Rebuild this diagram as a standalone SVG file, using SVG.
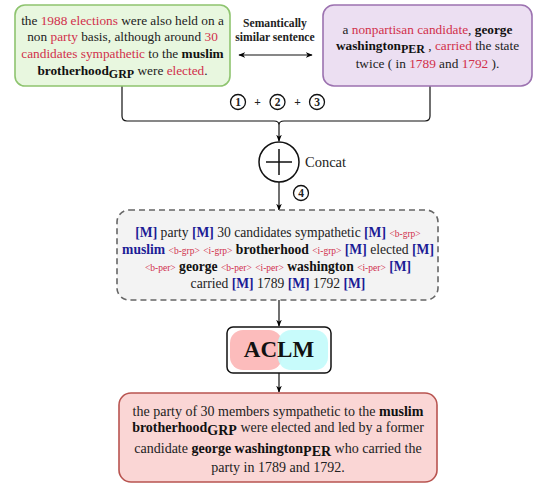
<svg xmlns="http://www.w3.org/2000/svg" width="537" height="484" viewBox="0 0 537 484" font-family="'Liberation Serif', 'DejaVu Serif', serif">
<defs>
<marker id="arr" viewBox="0 0 10 10" refX="9" refY="5" markerWidth="7" markerHeight="7" orient="auto-start-reverse" markerUnits="userSpaceOnUse">
<path d="M0,1 L10,5 L0,9 L3,5 Z" fill="#000"/>
</marker>
<style>
text{font-family:'Liberation Serif','DejaVu Serif',serif;font-size:13.3px;fill:#222;}
.b{font-weight:bold;fill:#111;}
.r{fill:#d1304b;}
.m{font-weight:bold;fill:#1c1c96;}
.t{font-size:9.5px;fill:#d1304b;}
.sub{font-weight:bold;font-size:12px;fill:#111;}
.lbl{font-weight:bold;font-size:11.6px;}
.conn{fill:none;stroke:#111;stroke-width:1.2;}
.num{fill:#fff;stroke:#111;stroke-width:1.3;}
.nt{font-weight:bold;font-size:11.5px;text-anchor:middle;}
.mid text{font-size:13.6px;}
.mid .t{font-size:9.5px;}
.out text{font-size:14px;}
</style>
</defs>

<g id="connectors">
<path class="conn" d="M122,86 V116 Q122,121 127,121 H274 Q279,121 279,125 Q279,121 284,121 H425 Q430,121 430,116 V86"/>
<path class="conn" d="M279,125 V141" marker-end="url(#arr)"/>
<path class="conn" d="M279,182 V210" marker-end="url(#arr)"/>
<path class="conn" d="M279,300 V326" marker-end="url(#arr)"/>
<path class="conn" d="M279,373 V392" marker-end="url(#arr)"/>
<path class="conn" d="M239,55 H312" marker-start="url(#arr)" marker-end="url(#arr)"/>
</g>

<g id="label-similar">
<text class="lbl" x="275" y="27" text-anchor="middle">Semantically</text>
<text class="lbl" x="275" y="41" text-anchor="middle">similar sentence</text>
</g>

<g id="node-green">
<rect x="15" y="5" width="215" height="81" rx="10" fill="#e8f7df" stroke="#8ec46f" stroke-width="1.6"/>
<text x="122.5" y="25" text-anchor="middle">the <tspan class="r">1988 elections</tspan> were also held on a</text>
<text x="122.5" y="41" text-anchor="middle">non <tspan class="r">party</tspan> basis, although around <tspan class="r">30</tspan></text>
<text x="122.5" y="58" text-anchor="middle"><tspan class="r">candidates sympathetic</tspan> to the <tspan class="b">muslim</tspan></text>
<text x="122.5" y="75" text-anchor="middle"><tspan class="b">brotherhood</tspan><tspan class="sub" dy="3">GRP</tspan><tspan dy="-3"> were </tspan><tspan class="r">elected</tspan>.</text>
</g>

<g id="node-purple">
<rect x="323" y="5" width="209" height="81" rx="11" fill="#ecdff2" stroke="#9c72b0" stroke-width="1.6"/>
<text x="427.5" y="34" text-anchor="middle">a <tspan class="r">nonpartisan candidate</tspan>, <tspan class="b">george</tspan></text>
<text x="427.5" y="50" text-anchor="middle"><tspan class="b">washington</tspan><tspan class="sub" dy="3">PER</tspan><tspan dy="-3"> , </tspan><tspan class="r">carried</tspan> the state</text>
<text x="427.5" y="68" text-anchor="middle">twice ( in <tspan class="r">1789</tspan> and <tspan class="r">1792</tspan> ).</text>
</g>

<g id="steps">
<circle class="num" cx="238" cy="102" r="7.5"/>
<text class="nt" x="238" y="106">1</text>
<text class="nt" x="257.5" y="106">+</text>
<circle class="num" cx="277.5" cy="102" r="7.5"/>
<text class="nt" x="277.5" y="106">2</text>
<text class="nt" x="297.5" y="106">+</text>
<circle class="num" cx="317" cy="102" r="7.5"/>
<text class="nt" x="317" y="106">3</text>
</g>

<g id="node-concat">
<circle cx="279" cy="162" r="20" fill="#fff" stroke="#111" stroke-width="1.5"/>
<path d="M266,162 H292 M279,149 V175" stroke="#111" stroke-width="1.5" fill="none"/>
<text x="305" y="167" style="font-size:14.5px">Concat</text>
</g>

<g id="step4">
<circle class="num" cx="301" cy="193" r="7.5"/>
<text class="nt" x="301" y="197">4</text>
</g>

<g id="node-masked" class="mid">
<rect x="117" y="210" width="321" height="90" rx="12" fill="#f3f3f3" stroke="#666" stroke-width="1.6" stroke-dasharray="6,4"/>
<text x="278" y="237" text-anchor="middle"><tspan class="m">[M]</tspan> party <tspan class="m">[M]</tspan> 30 candidates sympathetic <tspan class="m">[M]</tspan> <tspan class="t">&lt;b-grp&gt;</tspan></text>
<text x="278" y="254" text-anchor="middle"><tspan class="m">muslim</tspan> <tspan class="t">&lt;b-grp&gt;</tspan> <tspan class="t">&lt;i-grp&gt;</tspan> <tspan class="b">brotherhood</tspan> <tspan class="t">&lt;i-grp&gt;</tspan> <tspan class="m">[M]</tspan> elected <tspan class="m">[M]</tspan></text>
<text x="278" y="271" text-anchor="middle"><tspan class="t">&lt;b-per&gt;</tspan> <tspan class="b">george</tspan> <tspan class="t">&lt;b-per&gt;</tspan> <tspan class="t">&lt;i-per&gt;</tspan> <tspan class="b">washington</tspan> <tspan class="t">&lt;i-per&gt;</tspan> <tspan class="m">[M]</tspan></text>
<text x="278" y="288" text-anchor="middle">carried <tspan class="m">[M]</tspan> 1789 <tspan class="m">[M]</tspan> 1792 <tspan class="m">[M]</tspan></text>
</g>

<g id="node-aclm">
<rect x="227" y="327" width="104" height="46" rx="6" fill="#fff" stroke="#111" stroke-width="1.5"/>
<rect x="230" y="330" width="52" height="40" rx="13" fill="#fcbcbc"/>
<rect x="278" y="330" width="50" height="40" rx="13" fill="#c3fbfb" fill-opacity="0.92"/>
<text x="279" y="357" text-anchor="middle" style="font-size:23px;font-weight:bold;fill:#111">ACLM</text>
</g>

<g id="node-output" class="out">
<rect x="119" y="393" width="318" height="89" rx="12" fill="#fad6d5" stroke="#b85450" stroke-width="1.6"/>
<text x="278" y="416" text-anchor="middle">the party of 30 members sympathetic to the <tspan class="b">muslim</tspan></text>
<text x="278" y="432" text-anchor="middle"><tspan class="b">brotherhood</tspan><tspan class="b" dy="3">GRP</tspan><tspan dy="-3"> were elected and led by a former</tspan></text>
<text x="278" y="453" text-anchor="middle">candidate <tspan class="b">george washington</tspan><tspan class="b" dy="3">PER</tspan><tspan dy="-3"> who carried the</tspan></text>
<text x="278" y="472" text-anchor="middle">party in 1789 and 1792.</text>
</g>
</svg>
